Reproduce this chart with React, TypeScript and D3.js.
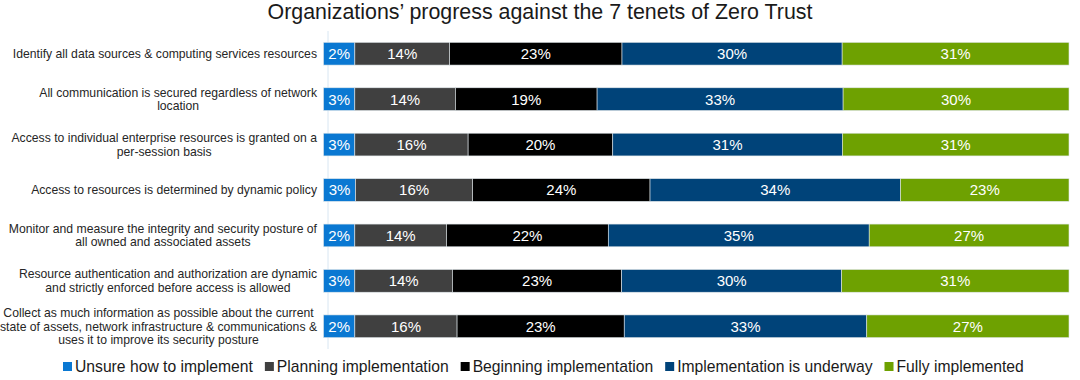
import React from "react";
import * as d3 from "d3";

const title = "Organizations\u2019 progress against the 7 tenets of Zero Trust";

const categories: string[][] = [
  ["Identify all data sources & computing services resources"],
  ["All communication is secured regardless of network", "location"],
  ["Access to individual enterprise resources is granted on a", "per-session basis"],
  ["Access to resources is determined by dynamic policy"],
  ["Monitor and measure the integrity and security posture of", "all owned and associated assets"],
  ["Resource authentication and authorization are dynamic", "and strictly enforced before access is allowed"],
  ["Collect as much information as possible about the current", "state of assets, network infrastructure & communications &", "uses it to improve its security posture"],
];

const seriesNames = [
  "Unsure how to implement",
  "Planning implementation",
  "Beginning implementation",
  "Implementation is underway",
  "Fully implemented",
];

// Printed percentages (labels)
const unsureLabel = [2, 3, 3, 3, 2, 3, 2];
const planningLabel = [14, 14, 16, 16, 14, 14, 16];
const beginningLabel = [23, 19, 20, 24, 22, 23, 23];
const underwayLabel = [30, 33, 31, 34, 35, 30, 33];
const fullyLabel = [31, 30, 31, 23, 27, 31, 27];

// Segment shares as drawn in the picture (share of each bar)
const unsureShare = [4.2, 4.2, 4.2, 4.3, 4.2, 4.2, 4.2];
const planningShare = [12.7, 13.5, 15.2, 15.7, 12.3, 13.1, 13.7];
const beginningShare = [23.1, 19.0, 19.4, 23.8, 21.7, 22.7, 22.4];
const underwayShare = [29.5, 33.0, 30.8, 33.6, 35.0, 29.5, 32.5];
const fullyShare = [30.4, 30.3, 30.4, 22.6, 26.8, 30.5, 27.1];

const colors = ["#0A78D2", "#404040", "#000000", "#004379", "#6EA101"];

const FONT = "'Liberation Sans', Arial, sans-serif";

let ctx: CanvasRenderingContext2D | null = null;
function measure(text: string, font: string): number {
  if (!ctx) ctx = document.createElement("canvas").getContext("2d");
  if (!ctx) return text.length * 6;
  ctx.font = font;
  return ctx.measureText(text).width;
}

export default function App() {
  const W = 1080;
  const H = 380;
  const keys = ["s0", "s1", "s2", "s3", "s4"];
  const shares = [unsureShare, planningShare, beginningShare, underwayShare, fullyShare];
  const labels = [unsureLabel, planningLabel, beginningLabel, underwayLabel, fullyLabel];

  const rows = categories.map((_, i) => {
    const r: Record<string, number> = { idx: i };
    keys.forEach((k, j) => (r[k] = shares[j][i]));
    return r;
  });
  const stacked = d3.stack<Record<string, number>>().keys(keys).offset(d3.stackOffsetExpand)(rows);

  const x = d3.scaleLinear().domain([0, 1]).range([323.5, 1069]);
  const y = d3
    .scaleBand<number>()
    .domain(d3.range(categories.length))
    .range([31, 349])
    .paddingInner(0.5)
    .paddingOuter(0.25);

  const labelFontSize = 12.2;
  const labelFont = `${labelFontSize}px ${FONT}`;
  const labelRight = 317;
  const lineH = 13.5;

  // Legend layout
  const legFontSize = 15.7;
  const legFont = `${legFontSize}px ${FONT}`;
  let lx = 63;
  const legendItems = seriesNames.map((name, i) => {
    const item = { name, x: lx, color: colors[i] };
    lx += 9 + 3 + measure(name, legFont) + 12;
    return item;
  });

  return (
    <svg width={W} height={H} style={{ position: "absolute", left: 0, top: 0, background: "#fff" }}>
      <text x={540} y={19} textAnchor="middle" fontFamily={FONT} fontSize={21.4} fill="#1a1a1a">
        {title}
      </text>
      <line x1={328} x2={328} y1={31} y2={349} stroke="#d8e6f2" strokeWidth={1} />
      {categories.map((lines, i) => {
        const maxW = Math.max(...lines.map((l) => measure(l, labelFont)));
        const cx = labelRight - maxW / 2;
        const cy = (y(i) as number) + y.bandwidth() / 2;
        const startY = cy - ((lines.length - 1) * lineH) / 2;
        return (
          <text key={i} fontFamily={FONT} fontSize={labelFontSize} fill="#262626" textAnchor="middle">
            {lines.map((l, j) => (
              <tspan key={j} x={cx} y={startY + j * lineH} dy="0.35em">
                {l}
              </tspan>
            ))}
          </text>
        );
      })}
      {stacked.map((layer, si) => (
        <g key={si}>
          {layer.map((d, ri) => {
            const x0 = x(d[0]);
            const x1 = x(d[1]);
            const yy = y(ri) as number;
            return (
              <g key={ri}>
                <rect
                  x={x0}
                  y={yy}
                  width={x1 - x0}
                  height={y.bandwidth()}
                  fill={colors[si]}
                  stroke="#dfe6ea"
                  strokeWidth={0.6}
                />
                <text
                  x={(x0 + x1) / 2}
                  y={yy + y.bandwidth() / 2}
                  dy="0.36em"
                  textAnchor="middle"
                  fontFamily={FONT}
                  fontSize={15}
                  fill="#ffffff"
                >
                  {labels[si][ri]}%
                </text>
              </g>
            );
          })}
        </g>
      ))}
      {legendItems.map((it, i) => (
        <g key={i}>
          <rect x={it.x} y={362} width={9} height={9} fill={it.color} />
          <text x={it.x + 12} y={372} fontFamily={FONT} fontSize={legFontSize} fill="#1a1a1a">
            {it.name}
          </text>
        </g>
      ))}
    </svg>
  );
}
